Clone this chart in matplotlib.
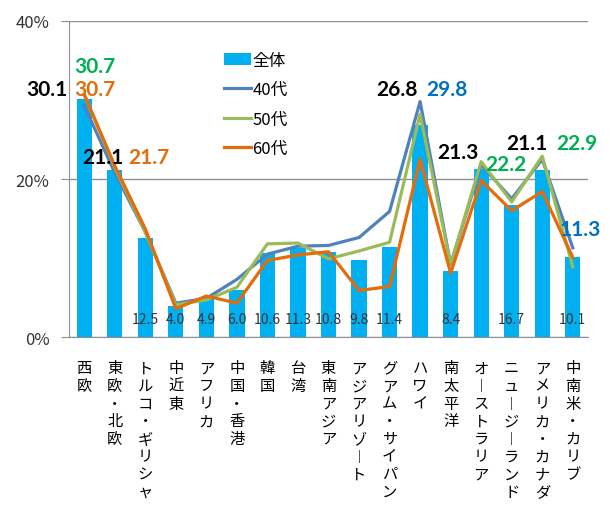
import matplotlib
matplotlib.use("Agg")
import matplotlib.pyplot as plt
import numpy as np

plt.rcParams['font.family'] = ['Noto Sans CJK JP', 'DejaVu Sans']

# data
regions = ["西欧", "東欧・北欧", "トルコ・ギリシャ", "中近東", "アフリカ", "中国・香港",
           "韓国", "台湾", "東南アジア", "アジアリゾート", "グアム・サイパン", "ハワイ",
           "南太平洋", "オーストラリア", "ニュージーランド", "アメリカ・カナダ", "中南米・カリブ"]
total = [30.1, 21.1, 12.5, 4.0, 4.9, 6.0, 10.6, 11.3, 10.8, 9.8, 11.4, 26.8, 8.4, 21.3, 16.7, 21.1, 10.1]
age40 = [29.3, 20.8, 13.3, 4.3, 4.9, 7.3, 10.5, 11.5, 11.6, 12.6, 15.9, 29.8, 9.2, 21.8, 17.5, 22.5, 11.3]
age50 = [30.7, 21.5, 13.3, 4.1, 4.7, 6.3, 11.8, 11.9, 9.9, 10.9, 12.0, 28.2, 9.2, 22.2, 17.1, 22.9, 8.9]
age60 = [30.7, 21.7, 13.7, 3.6, 5.2, 4.3, 9.7, 10.4, 10.8, 5.9, 6.4, 22.5, 8.1, 19.8, 16.0, 18.4, 10.1]

# highlighted labels: (index, text, color, x offset px, y offset px of centre above bar top)
big_labels = [
    (0, "30.1", "black", -37, 10),
    (0, "30.7", "#00B050", 11, 33),
    (0, "30.7", "#E46C0A", 11, 10),
    (1, "21.1", "black", -12, 13),
    (1, "21.7", "#E46C0A", 34, 13),
    (11, "26.8", "black", -23, 36),
    (11, "29.8", "#0070C0", 27, 36),
    (13, "21.3", "black", -23, 17),
    (13, "22.2", "#00B050", 25, 5),
    (15, "21.1", "black", -15, 27),
    (15, "22.9", "#00B050", 35, 27),
    (16, "11.3", "#0070C0", 7, 28),
]
small_idx = [2, 3, 4, 5, 6, 7, 8, 9, 10, 12, 14, 16]

fig = plt.figure(figsize=(6.1, 5.1), dpi=100)
ax = fig.add_axes([0.113, 0.337, 0.851, 0.62])

x = np.arange(len(regions))
b = ax.bar(x, total, width=0.5, color="#00B0F0", label="全体", zorder=2)
l1, = ax.plot(x, age40, color="#4F81BD", lw=2.3, label="40代", zorder=3)
l2, = ax.plot(x, age50, color="#9BBB59", lw=2.3, label="50代", zorder=4)
l3, = ax.plot(x, age60, color="#E46C0A", lw=2.3, label="60代", zorder=5)

ax.set_xlim(-0.5, len(regions) - 0.5)
ax.set_ylim(0, 40)
ax.set_yticks([0, 20, 40])
ax.set_yticklabels(["0%", "20%", "40%"], fontsize=12, color="#333333")
ax.yaxis.grid(True, color="#909090", lw=1, zorder=0)
ax.tick_params(axis="y", length=6, color="#909090", pad=8)
for s in ["top", "right"]:
    ax.spines[s].set_visible(False)
for s in ["left", "bottom"]:
    ax.spines[s].set_color("#909090")

def vert(s):
    return "\n".join(s.replace("ー", "︱"))

ax.set_xticks(x)
ax.set_xticklabels([vert(r) for r in regions], fontsize=11, va="top", linespacing=1.05)
ax.tick_params(axis="x", length=0, pad=16)

for i, t, c, dx, dy in big_labels:
    ax.annotate(t, (i, total[i]), xytext=(dx * 0.72, dy * 0.72), textcoords="offset points",
                ha="center", va="center", fontsize=15, fontweight="bold", color=c,
                family=["Lato"], zorder=6)
for i in small_idx:
    ax.annotate(f"{total[i]:.1f}", (i, 0), xytext=(0, 8), textcoords="offset points",
                ha="center", va="bottom", fontsize=10, color="#333333", zorder=6)

ax.legend([b, l1, l2, l3], ["全体", "40代", "50代", "60代"],
          loc="upper left", bbox_to_anchor=(0.27, 0.95), frameon=False, fontsize=12,
          handlelength=1.6, handletextpad=0.1, labelspacing=0.75)

fig.savefig("out.png", dpi=100)
